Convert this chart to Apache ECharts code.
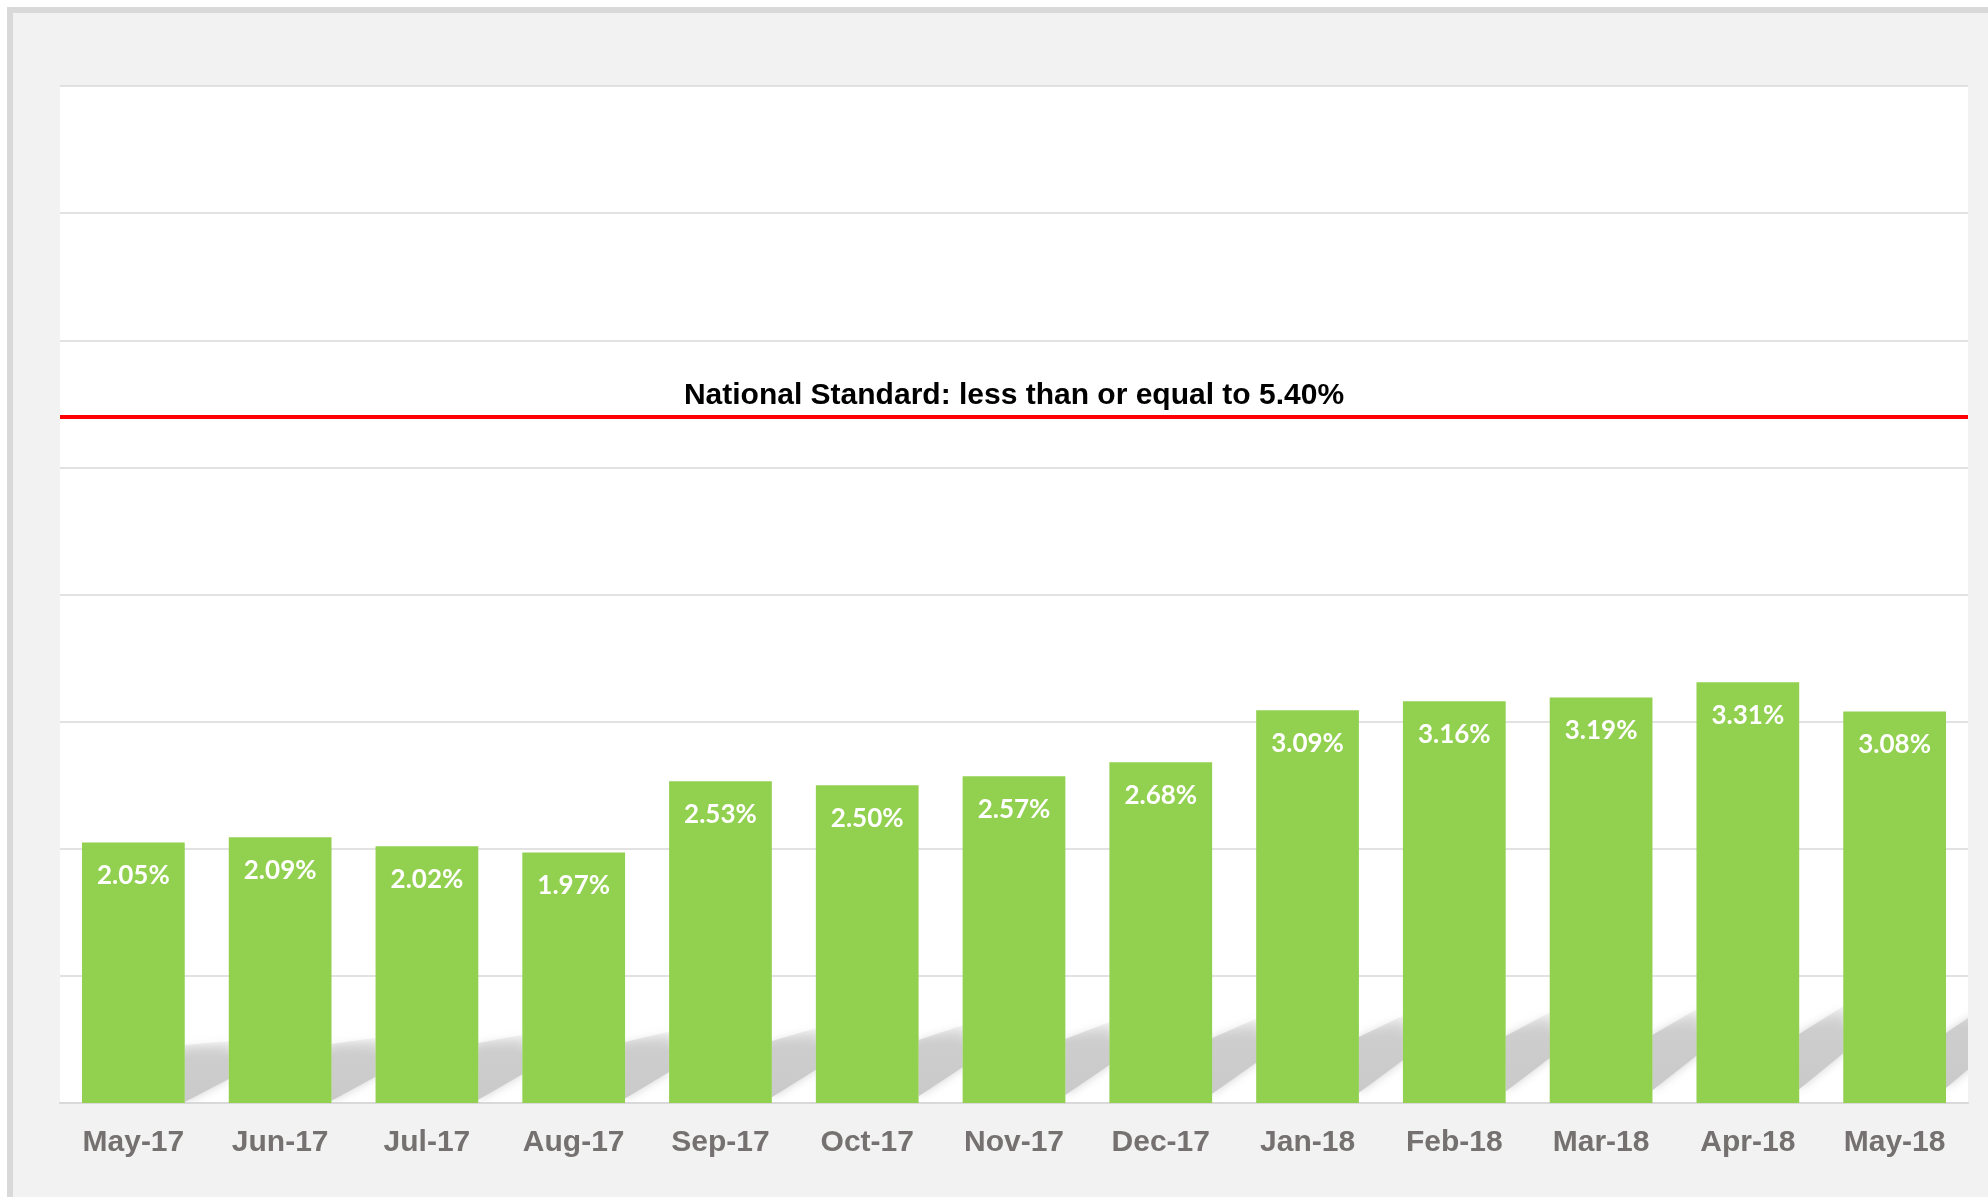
<!DOCTYPE html>
<html>
<head>
<meta charset="utf-8">
<style>
    html, body { margin: 0; padding: 0; background: #fff; }
    #frame {
        position: absolute; left: 7px; top: 7px; width: 2100px; height: 1300px;
        background: #f2f2f2; border: 6px solid #d9d9d9; box-sizing: border-box;
    }
    #myEchart { position: absolute; left: 0; top: 0; width: 1988px; height: 1197px; }
</style>
<script src="https://cdn.jsdelivr.net/npm/echarts@6/dist/echarts.min.js"></script>
</head>
<body>
<div id="frame"></div>
<div id="myEchart"></div>
<script>
    var months = ['May-17', 'Jun-17', 'Jul-17', 'Aug-17', 'Sep-17', 'Oct-17', 'Nov-17',
        'Dec-17', 'Jan-18', 'Feb-18', 'Mar-18', 'Apr-18', 'May-18'];
    var rates = [2.05, 2.09, 2.02, 1.97, 2.53, 2.50, 2.57, 2.68, 3.09, 3.16, 3.19, 3.31, 3.08];
    var standard = 5.4;
    var standardText = 'National Standard: less than or equal to 5.40%';

    var chart = echarts.init(document.getElementById('myEchart'));

    // grey floor shadow in the gap right of each bar, a bit higher toward the right
    function renderShadow(params, api) {
        var i = api.value(0);
        var t = i / (months.length - 1);
        var p = api.coord([i, 0]);
        var bw = api.size([1, 0])[0];
        var x0 = p[0] + bw * 0.35;
        var x1 = x0 + bw * 0.3;
        var y = p[1];
        return {
            type: 'polygon',
            shape: {
                points: [
                    [x0, y - (58 + 12 * t)], [x1, y - (62 + 38 * t)],
                    [x1, y - (24 + 28 * t)], [x0, y - (1 + 14 * t)]
                ]
            },
            style: {
                fill: new echarts.graphic.LinearGradient(0, 0, 0, 1, [
                    { offset: 0, color: 'rgba(205,205,205,0.2)' },
                    { offset: 0.3, color: 'rgba(205,205,205,1)' },
                    { offset: 1, color: 'rgba(202,202,202,1)' }
                ]),
                shadowBlur: 10,
                shadowColor: 'rgba(205,205,205,0.9)'
            }
        };
    }

    chart.setOption({
        animation: false,
        grid: {
            left: 60, right: 20, top: 86, bottom: 94,
            show: true, backgroundColor: '#fff', borderWidth: 0
        },
        xAxis: {
            type: 'category',
            data: months,
            axisLine: { lineStyle: { color: '#d9d9d9', width: 2 } },
            axisTick: { length: 9, lineStyle: { color: '#d9d9d9', width: 1.5 } },
            axisLabel: {
                margin: 25,
                color: '#767171',
                fontFamily: 'Liberation Sans',
                fontWeight: 'bold',
                fontSize: 30
            }
        },
        yAxis: {
            type: 'value',
            min: 0, max: 8, interval: 1,
            axisLabel: { show: false },
            axisLine: { show: false },
            axisTick: { show: false },
            splitLine: { lineStyle: { color: '#d9d9d9', width: 1.5 } }
        },
        series: [{
            type: 'custom',
            z: 1,
            clip: true,
            silent: true,
            renderItem: renderShadow,
            data: rates.map(function (v, i) { return [i, v]; })
        }, {
            type: 'bar',
            z: 2,
            data: rates,
            barCategoryGap: '30%',
            itemStyle: { color: '#92d050' },
            label: {
                show: true,
                position: 'insideTop',
                distance: 20,
                color: '#fff',
                fontFamily: 'Lato',
                fontWeight: 'bold',
                fontSize: 26,
                formatter: function (p) { return p.value.toFixed(2) + '%'; }
            },
            markLine: {
                silent: true,
                symbol: 'none',
                lineStyle: { color: '#ff0000', width: 4, type: 'solid' },
                label: {
                    position: 'middle',
                    distance: 6,
                    formatter: standardText,
                    color: '#000',
                    fontFamily: 'Liberation Sans',
                    fontWeight: 'bold',
                    fontSize: 30
                },
                data: [{ yAxis: standard }]
            }
        }]
    });
</script>
</body>
</html>
